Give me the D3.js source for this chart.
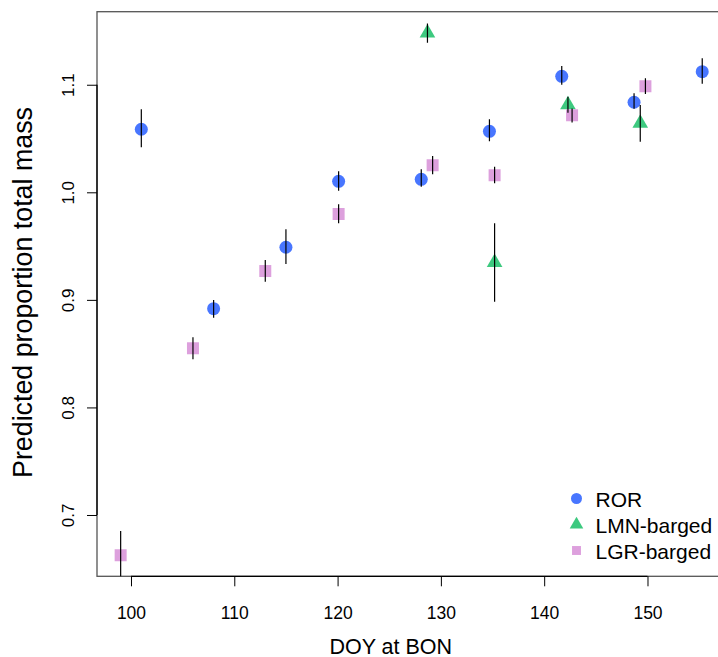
<!DOCTYPE html>
<html>
<head>
<meta charset="utf-8">
<script src="https://cdn.jsdelivr.net/npm/d3@7"></script>
<style>
  html, body { margin: 0; padding: 0; background: #fff; }
  svg { display: block; font-family: "Liberation Sans", Arial, Helvetica, sans-serif; }
</style>
</head>
<body>
<div id="chart"></div>
<script>
// ---- data ----
const rorDoy  = [101.0, 108.0, 115.0, 120.1, 128.1, 134.7, 141.7, 148.7, 155.3];
const rorMean = [1.0586, 0.8918, 0.9489, 1.0102, 1.0121, 1.0567, 1.1078, 1.0837, 1.1121];
const rorLo   = [1.0418, 0.8834, 0.9333, 1.0015, 1.0052, 1.0474, 1.1000, 1.0777, 1.1010];
const rorHi   = [1.0772, 0.8999, 0.9656, 1.0195, 1.0214, 1.0679, 1.1174, 1.0920, 1.1246];

const lmnDoy  = [128.7, 135.2, 142.3, 149.3];
const lmnMean = [1.1481, 0.9347, 1.0814, 1.0641];
const lmnLo   = [1.1390, 0.8983, 1.0740, 1.0470];
const lmnHi   = [1.1570, 0.9712, 1.0889, 1.0812];

const lgrDoy  = [99.0, 106.0, 113.0, 120.1, 129.2, 135.2, 142.7, 149.8];
const lgrMean = [0.6625, 0.8550, 0.9268, 0.9798, 1.0251, 1.0158, 1.0716, 1.0985];
const lgrLo   = [0.6400, 0.8447, 0.9169, 0.9712, 1.0167, 1.0084, 1.0650, 1.0914];
const lgrHi   = [0.6851, 0.8652, 0.9371, 0.9888, 1.0337, 1.0238, 1.0780, 1.1060];

const seriesNames = ["ROR", "LMN-barged", "LGR-barged"];
const xTicks = [100, 110, 120, 130, 140, 150];
const yTicks = [0.7, 0.8, 0.9, 1.0, 1.1];
const xLabel = "DOY at BON";
const yLabel = "Predicted proportion total mass";

// ---- layout ----
const W = 718, H = 657;
const plot = { left: 97, right: 723, top: 11.7, bottom: 576.3 };
const colors = ["#4876FF", "#3DC97F", "#DDA0DD"];
const shapes = [d3.symbolCircle, d3.symbolTriangle, d3.symbolSquare];
const sizes = [133, 106, 144];
const legendSizes = [95, 80, 80];

const x = d3.scaleLinear().domain([96.71, 157.31]).range([plot.left, plot.right]);
const y = d3.scaleLinear().domain([0.6430, 1.1679]).range([plot.bottom, plot.top]);

const svg = d3.select("#chart").append("svg")
  .attr("width", W).attr("height", H).style("overflow", "hidden");

svg.append("defs").append("clipPath").attr("id", "clip")
  .append("rect")
  .attr("x", plot.left).attr("y", plot.top)
  .attr("width", plot.right - plot.left).attr("height", plot.bottom - plot.top);

// box
svg.append("rect")
  .attr("x", plot.left).attr("y", plot.top)
  .attr("width", plot.right - plot.left).attr("height", plot.bottom - plot.top)
  .attr("fill", "none").attr("stroke", "#555").attr("stroke-width", 1.3);

// x axis
const xAxis = d3.axisBottom(x).tickValues(xTicks).tickSize(10).tickFormat(d3.format("d"));
const gx = svg.append("g").attr("transform", `translate(0,${plot.bottom})`).call(xAxis);
gx.select(".domain").remove();
gx.selectAll(".tick line").attr("stroke", "#000").attr("stroke-width", 1);
gx.selectAll(".tick text").attr("y", 42.5).attr("dy", null)
  .attr("font-size", 17.5).attr("fill", "#000").attr("font-family", "Liberation Sans, Arial, sans-serif");
svg.append("line")
  .attr("x1", x(xTicks[0])).attr("x2", x(xTicks[xTicks.length - 1]))
  .attr("y1", plot.bottom).attr("y2", plot.bottom)
  .attr("stroke", "#000").attr("stroke-width", 1.3);

// y axis
const yAxis = d3.axisLeft(y).tickValues(yTicks).tickSize(10).tickFormat(d3.format(".1f"));
const gy = svg.append("g").attr("transform", `translate(${plot.left},0)`).call(yAxis);
gy.select(".domain").remove();
gy.selectAll(".tick line").attr("stroke", "#000").attr("stroke-width", 1);
gy.selectAll(".tick text")
  .attr("x", null).attr("dy", null).attr("y", null)
  .attr("text-anchor", "middle")
  .attr("transform", "translate(-23.5,0) rotate(-90)")
  .attr("font-size", 17).attr("fill", "#000").attr("font-family", "Liberation Sans, Arial, sans-serif");
svg.append("line")
  .attr("x1", plot.left).attr("x2", plot.left)
  .attr("y1", y(yTicks[0])).attr("y2", y(yTicks[yTicks.length - 1]))
  .attr("stroke", "#000").attr("stroke-width", 1.3);

// axis titles
svg.append("text")
  .attr("x", (x(100) + x(150)) / 2 + 1.5).attr("y", 653.5)
  .attr("text-anchor", "middle").attr("font-size", 21.5).attr("fill", "#000")
  .text(xLabel);
svg.append("text")
  .attr("transform", "translate(31.5,292.5) rotate(-90)")
  .attr("text-anchor", "middle").attr("font-size", 26.8).attr("fill", "#000")
  .text(yLabel);

// series
const series = [
  { doy: rorDoy, mean: rorMean, lo: rorLo, hi: rorHi },
  { doy: lmnDoy, mean: lmnMean, lo: lmnLo, hi: lmnHi },
  { doy: lgrDoy, mean: lgrMean, lo: lgrLo, hi: lgrHi }
];

const gPlot = svg.append("g").attr("clip-path", "url(#clip)");

series.forEach((s, i) => {
  const pts = s.doy.map((d, j) => ({ d, m: s.mean[j], lo: s.lo[j], hi: s.hi[j] }));
  gPlot.append("g").selectAll("path").data(pts).join("path")
    .attr("transform", p => `translate(${x(p.d)},${y(p.m)})`)
    .attr("d", d3.symbol(shapes[i], sizes[i]))
    .attr("fill", colors[i]);
});
series.forEach((s, i) => {
  const pts = s.doy.map((d, j) => ({ d, m: s.mean[j], lo: s.lo[j], hi: s.hi[j] }));
  gPlot.append("g").selectAll("line").data(pts).join("line")
    .attr("x1", p => x(p.d)).attr("x2", p => x(p.d))
    .attr("y1", p => y(p.lo)).attr("y2", p => y(p.hi))
    .attr("stroke", "#000").attr("stroke-width", 1.2);
});

// legend
const legend = svg.append("g");
seriesNames.forEach((name, i) => {
  const cy = 498.5 + i * 26;
  legend.append("path")
    .attr("transform", `translate(576.5,${cy})`)
    .attr("d", d3.symbol(shapes[i], legendSizes[i]))
    .attr("fill", colors[i]);
  legend.append("text")
    .attr("x", 595.5).attr("y", cy + 8)
    .attr("font-size", 21).attr("fill", "#000")
    .text(name);
});
</script>
</body>
</html>
